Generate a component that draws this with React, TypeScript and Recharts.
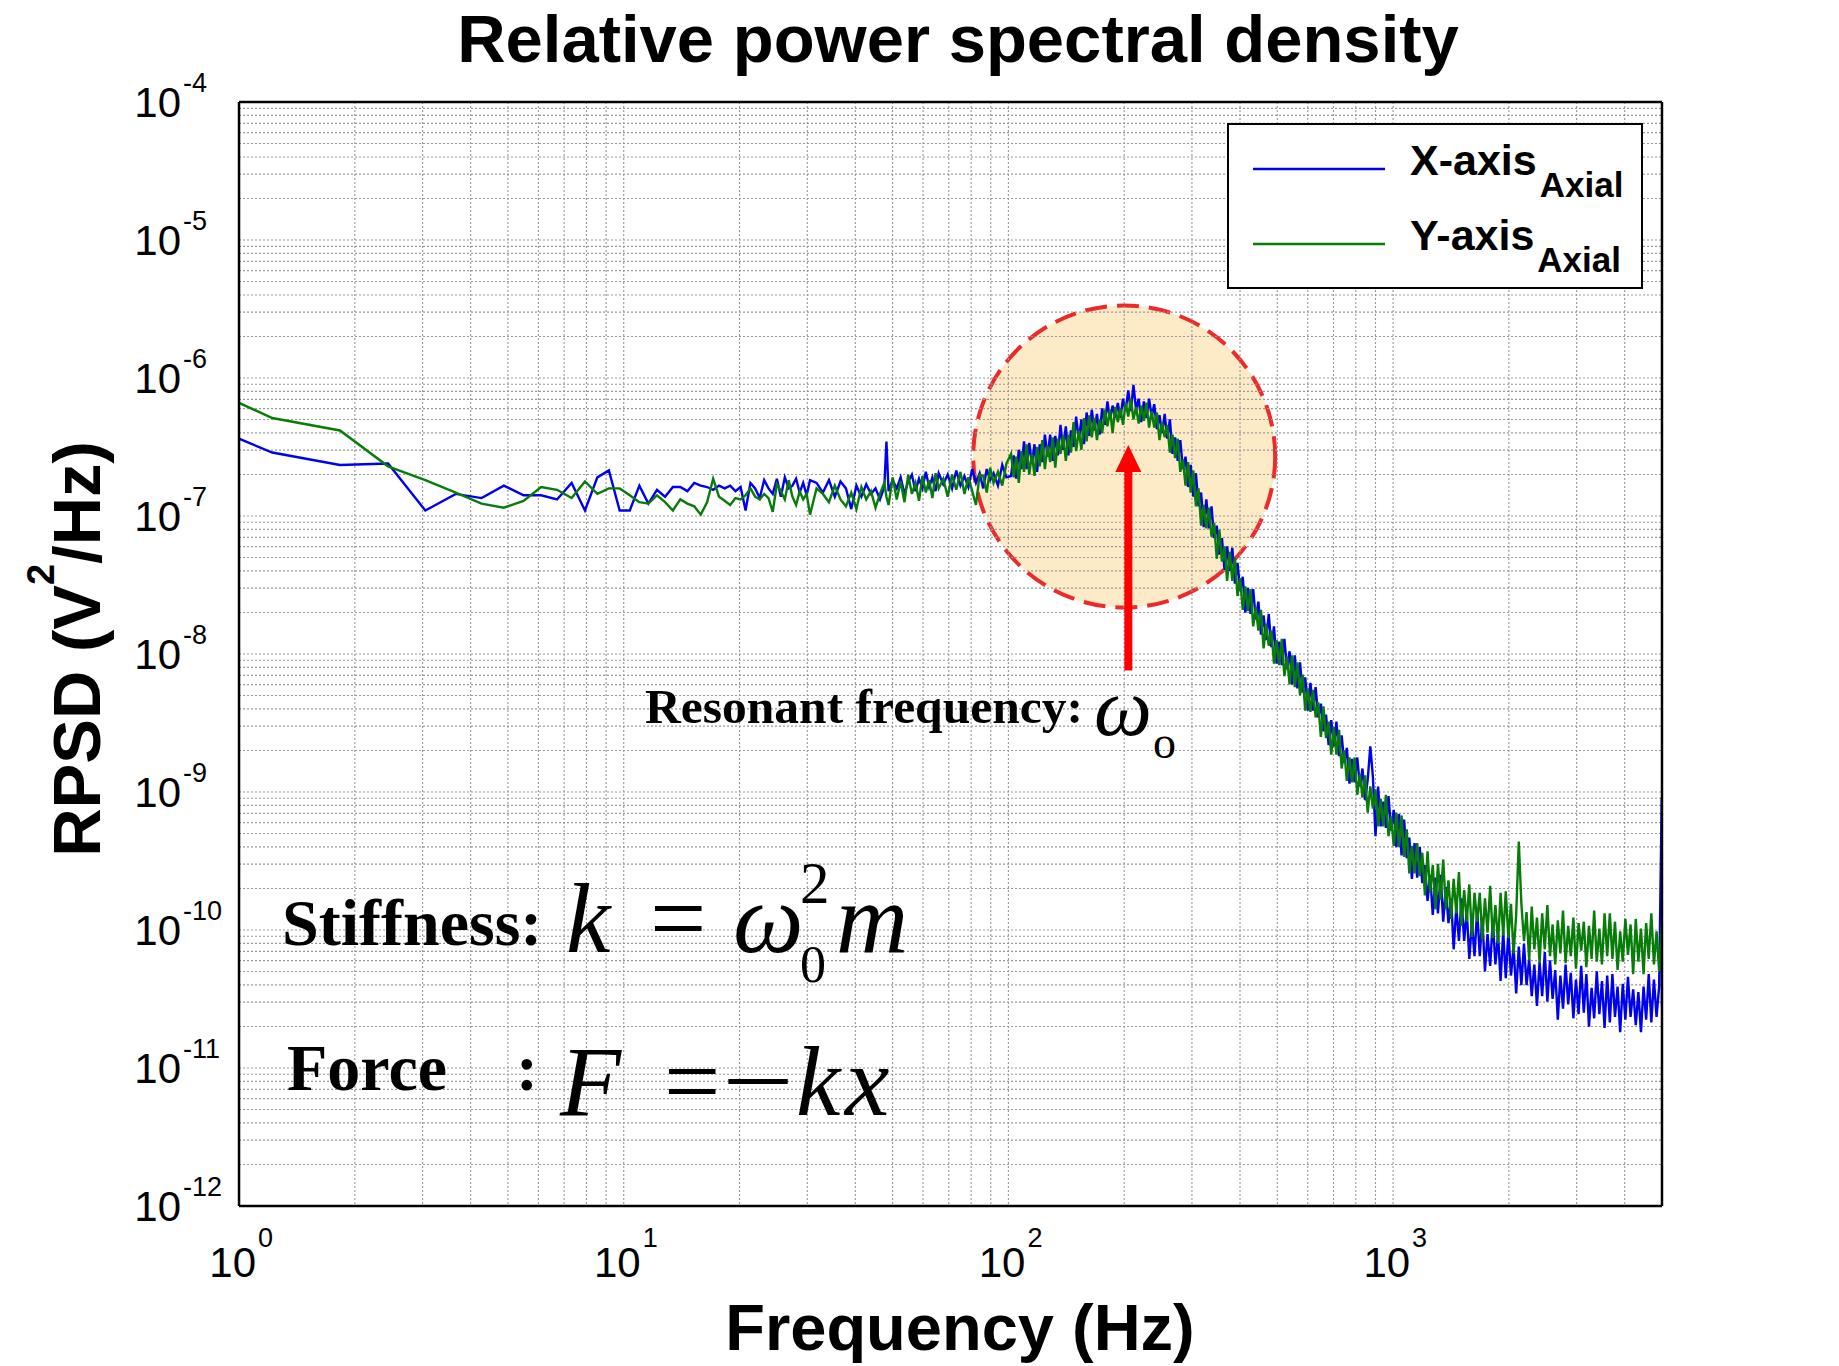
import React from 'react';
import {
  LineChart,
  Line,
  XAxis,
  YAxis,
  CartesianGrid,
  ReferenceDot,
  ReferenceLine,
  Legend,
} from 'recharts';

// ---------------- data ----------------
const freqHz = [
  1, 1.22, 1.83, 2.44, 3.05, 3.66, 4.27, 4.88, 5.49, 6.1,
  6.71, 7.32, 7.93, 8.54, 9.15, 9.76, 10.37, 10.98, 11.59, 12.2,
  12.81, 13.42, 14.03, 14.64, 15.25, 15.86, 16.47, 17.08, 17.69, 18.3,
  18.91, 19.52, 20.13, 20.74, 21.35, 21.96, 22.57, 23.18, 23.79, 24.4,
  25.01, 25.62, 26.23, 26.84, 27.45, 28.06, 28.67, 29.28, 29.89, 30.5,
  31.72, 32.94, 34.16, 35.38, 36.6, 37.82, 39.04, 40.26, 41.48, 42.7,
  43.92, 45.14, 46.36, 47.58, 48.19, 48.8, 50.02, 51.24, 52.46, 53.68,
  54.9, 56.12, 57.34, 58.56, 59.78, 61.0, 62.22, 63.44, 64.66, 65.88,
  67.71, 69.54, 71.37, 73.2, 75.03, 76.86, 78.69, 80.52, 82.35, 84.18,
  86.01, 87.84, 89.67, 91.5, 93.94, 96.38, 98.82,
  101.6, 103.2, 104.8, 106.4, 108.1, 109.8, 111.5, 113.3, 115.1, 116.9,
  118.7, 120.6, 122.5, 124.4, 126.4, 128.4, 130.4, 132.4, 134.5, 136.6,
  138.8, 141.0, 143.2, 145.4, 147.7, 150.0, 152.4, 154.8, 157.2, 159.7,
  162.2, 164.7, 167.3, 169.9, 172.6, 175.3, 178.1, 180.9, 183.7, 186.6,
  189.5, 192.5, 195.5, 198.6, 201.7, 204.9, 208.1, 211.4, 214.7, 218.1,
  221.5, 225.0, 228.5, 232.1, 235.7, 239.4, 243.2, 247.0, 250.9, 254.8,
  258.8, 262.9, 267.0, 271.2, 275.5, 279.8, 284.2, 288.7, 293.2, 297.8,
  302.5, 307.2, 312.0, 316.9, 321.9, 327.0, 332.1, 337.3, 342.6, 348.0,
  353.5, 359.0, 364.6, 370.3, 376.1, 382.0, 388.0, 394.1, 400.3, 406.6,
  413.0, 419.5, 426.1, 432.8, 439.6, 446.5, 453.5, 460.6, 467.8, 475.1,
  482.6, 490.2, 497.9, 505.7, 513.6, 521.7, 529.9, 538.2, 546.7, 555.3,
  564.0, 572.9, 581.9, 591.0, 600.3, 609.7, 619.3, 629.0, 638.9, 648.9,
  659.1, 669.4, 679.9, 690.6, 701.4, 712.4, 723.6, 735.0, 746.5, 758.2,
  770.1, 782.2, 794.5, 807.0, 819.7, 832.6, 845.7, 859.0, 872.5, 886.2,
  900.1, 914.2, 928.6, 943.2, 958.0, 973.0, 988.3, 1004, 1020, 1036,
  1052, 1068, 1085, 1102, 1119, 1137, 1155, 1173, 1191, 1210,
  1229, 1248, 1268, 1288, 1308, 1329, 1350, 1371, 1393, 1415,
  1437, 1460, 1483, 1506, 1530, 1554, 1578, 1603, 1628, 1654,
  1680, 1706, 1733, 1760, 1788, 1816, 1845, 1874, 1903, 1933,
  1963, 1994, 2025, 2057, 2089, 2122, 2155, 2189, 2223, 2258,
  2293, 2329, 2366, 2403, 2441, 2479, 2518, 2558, 2598, 2639,
  2680, 2722, 2765, 2808, 2852, 2897, 2942, 2988, 3035, 3083,
  3131, 3180, 3230, 3281, 3332, 3384, 3437, 3491, 3546, 3602,
  3659, 3716, 3774, 3833, 3893, 3954, 4016, 4079, 4143, 4208,
  4274, 4341, 4409, 4478, 4548, 4619, 4691, 4765, 4840, 4916,
  4993, 5000,
];

// log10 of RPSD (V^2/Hz), X-axis (axial), blue
const xAxialLogPsd = [
  -6.44, -6.54, -6.63, -6.62, -6.96, -6.84, -6.87, -6.78, -6.85, -6.85,
  -6.88, -6.76, -6.96, -6.72, -6.67, -6.96, -6.96, -6.78, -6.91, -6.81,
  -6.86, -6.79, -6.79, -6.82, -6.76, -6.78, -6.79, -6.81, -6.78, -6.80,
  -6.78, -6.82, -6.79, -6.96, -6.76, -6.80, -6.87, -6.74, -6.80, -6.84,
  -6.73, -6.86, -6.72, -6.80, -6.78, -6.73, -6.83, -6.76, -6.85, -6.74,
  -6.76, -6.83, -6.74, -6.86, -6.75, -6.80, -6.95, -6.78, -6.86, -6.77,
  -6.84, -6.80, -6.88, -6.79, -6.46, -6.82, -6.74, -6.80, -6.72, -6.84,
  -6.75, -6.70, -6.82, -6.73, -6.80, -6.68, -6.79, -6.72, -6.82, -6.69,
  -6.77, -6.70, -6.80, -6.67, -6.78, -6.71, -6.79, -6.66, -6.76, -6.69,
  -6.80, -6.66, -6.74, -6.69, -6.78, -6.63, -6.72,
  -6.71, -6.56, -6.73, -6.52, -6.66, -6.46, -6.66, -6.47, -6.62, -6.48,
  -6.68, -6.48, -6.61, -6.41, -6.57, -6.41, -6.60, -6.42, -6.56, -6.34,
  -6.52, -6.35, -6.56, -6.38, -6.50, -6.28, -6.45, -6.30, -6.48, -6.25,
  -6.42, -6.23, -6.38, -6.26, -6.41, -6.22, -6.34, -6.17, -6.30, -6.20,
  -6.29, -6.18, -6.29, -6.15, -6.24, -6.09, -6.24, -6.05, -6.23, -6.15,
  -6.32, -6.17, -6.29, -6.15, -6.28, -6.19, -6.37, -6.27, -6.40, -6.26,
  -6.44, -6.30, -6.55, -6.43, -6.60, -6.45, -6.66, -6.57, -6.79, -6.63,
  -6.86, -6.69, -6.93, -6.83, -7.08, -6.88, -7.09, -6.93, -7.16, -7.07,
  -7.28, -7.16, -7.39, -7.22, -7.40, -7.23, -7.49, -7.34, -7.54, -7.44,
  -7.70, -7.52, -7.71, -7.53, -7.75, -7.62, -7.86, -7.72, -7.90, -7.71,
  -7.95, -7.80, -8.07, -7.91, -8.08, -7.89, -8.11, -7.98, -8.22, -8.01,
  -8.25, -8.06, -8.28, -8.17, -8.41, -8.21, -8.41, -8.24, -8.46, -8.36,
  -8.56, -8.44, -8.66, -8.48, -8.67, -8.49, -8.74, -8.59, -8.79, -8.68,
  -8.94, -8.76, -8.93, -8.75, -8.96, -8.83, -9.06, -8.91, -8.67, -8.89,
  -9.32, -8.96, -9.25, -9.07, -9.26, -9.03, -9.28, -9.13, -9.40, -9.16,
  -9.46, -9.20, -9.48, -9.33, -9.63, -9.37, -9.62, -9.40, -9.66, -9.53,
  -9.79, -9.60, -9.89, -9.62, -9.88, -9.60, -9.94, -9.69, -9.95, -9.77,
  -10.14, -9.83, -10.08, -9.77, -10.08, -9.86, -10.21, -9.94, -10.19, -9.85,
  -10.19, -9.91, -10.30, -10.03, -10.26, -9.93, -10.25, -10.03, -10.37, -10.01,
  -10.35, -10.01, -10.33, -10.12, -10.46, -10.12, -10.40, -10.10, -10.40, -10.21,
  -10.48, -10.25, -10.55, -10.23, -10.48, -10.16, -10.52, -10.22, -10.50, -10.29,
  -10.65, -10.33, -10.57, -10.25, -10.54, -10.31, -10.64, -10.36, -10.61, -10.26,
  -10.60, -10.32, -10.70, -10.42, -10.64, -10.30, -10.61, -10.37, -10.71, -10.33,
  -10.67, -10.32, -10.63, -10.41, -10.74, -10.39, -10.65, -10.34, -10.63, -10.43,
  -10.69, -10.45, -10.74, -10.41, -10.65, -10.32, -10.67, -10.36, -10.63, -10.41,
  -9.04, -10.55,
];

// log10 of RPSD (V^2/Hz), Y-axis (axial), green
const yAxialLogPsd = [
  -6.18, -6.29, -6.38, -6.64, -6.74, -6.83, -6.91, -6.94, -6.89, -6.79,
  -6.81, -6.87, -6.75, -6.84, -6.80, -6.80, -6.85, -6.90, -6.91, -6.85,
  -6.90, -6.96, -6.88, -6.91, -6.93, -6.99, -6.90, -6.73, -6.86, -6.89,
  -6.92, -6.87, -6.88, -6.85, -6.80, -6.86, -6.88, -6.84, -6.87, -6.97,
  -6.77, -6.82, -6.88, -6.74, -6.86, -6.92, -6.82, -6.88, -6.84, -6.99,
  -6.80, -6.84, -6.90, -6.78, -6.88, -6.93, -6.83, -6.95, -6.79, -6.88,
  -6.82, -6.94, -6.84, -6.76, -6.86, -6.92, -6.72, -6.88, -6.75, -6.90,
  -6.70, -6.84, -6.76, -6.89, -6.71, -6.83, -6.74, -6.87, -6.69, -6.80,
  -6.73, -6.86, -6.70, -6.81, -6.68, -6.84, -6.72, -6.82, -6.92, -6.70,
  -6.71, -6.83, -6.65, -6.76, -6.68, -6.78, -6.62,
  -6.55, -6.72, -6.57, -6.76, -6.53, -6.68, -6.48, -6.70, -6.55, -6.71,
  -6.50, -6.64, -6.45, -6.66, -6.49, -6.61, -6.43, -6.65, -6.44, -6.55,
  -6.41, -6.60, -6.41, -6.54, -6.32, -6.53, -6.38, -6.52, -6.29, -6.46,
  -6.27, -6.43, -6.29, -6.45, -6.30, -6.40, -6.23, -6.35, -6.23, -6.40,
  -6.21, -6.32, -6.22, -6.34, -6.18, -6.28, -6.15, -6.30, -6.21, -6.33,
  -6.20, -6.31, -6.18, -6.36, -6.24, -6.36, -6.25, -6.45, -6.32, -6.43,
  -6.34, -6.54, -6.41, -6.58, -6.44, -6.68, -6.59, -6.78, -6.61, -6.83,
  -6.67, -6.93, -6.80, -7.07, -6.92, -7.09, -6.94, -7.15, -7.05, -7.31,
  -7.10, -7.33, -7.22, -7.47, -7.26, -7.47, -7.30, -7.58, -7.45, -7.68,
  -7.51, -7.69, -7.53, -7.80, -7.66, -7.83, -7.68, -7.96, -7.78, -7.94,
  -7.83, -8.07, -7.90, -8.08, -7.89, -8.16, -8.02, -8.22, -8.01, -8.24,
  -8.06, -8.30, -8.15, -8.41, -8.25, -8.42, -8.26, -8.46, -8.35, -8.60,
  -8.38, -8.61, -8.49, -8.73, -8.53, -8.73, -8.55, -8.83, -8.70, -8.92,
  -8.75, -8.93, -8.75, -9.02, -8.87, -9.04, -8.88, -9.15, -8.96, -9.12,
  -8.98, -9.25, -9.05, -9.25, -9.02, -9.32, -9.18, -9.39, -9.15, -9.40,
  -9.17, -9.47, -9.27, -9.59, -9.39, -9.59, -9.37, -9.61, -9.44, -9.75,
  -9.43, -9.73, -9.53, -9.85, -9.52, -9.78, -9.49, -9.85, -9.64, -9.92,
  -9.63, -9.88, -9.58, -9.97, -9.71, -9.94, -9.67, -10.05, -9.73, -9.94,
  -9.73, -10.07, -9.77, -10.02, -9.68, -10.06, -9.82, -10.10, -9.73, -10.04,
  -9.72, -10.06, -9.81, -10.17, -9.89, -9.36, -9.81, -10.08, -9.87, -10.22,
  -9.83, -10.14, -9.91, -10.24, -9.88, -10.14, -9.82, -10.19, -9.96, -10.25,
  -9.93, -10.17, -9.86, -10.24, -9.97, -10.19, -9.91, -10.28, -9.95, -10.15,
  -9.94, -10.27, -9.97, -10.21, -9.86, -10.23, -9.99, -10.25, -9.88, -10.19,
  -9.88, -10.21, -9.94, -10.29, -10.01, -10.23, -9.92, -10.18, -9.96, -10.32,
  -9.92, -10.23, -9.99, -10.32, -9.95, -10.21, -9.88, -10.25, -10.01, -10.30,
  -9.95, -10.13,
];

const seriesNames = ['X-axis', 'Y-axis'];
const seriesSubscript = 'Axial';
const seriesColors = ['#0000f0', '#087c08'];

const xMajorTicks = [1, 10, 100, 1000];
const xMinorTicks = [
  2, 3, 4, 5, 6, 7, 8, 9,
  20, 30, 40, 50, 60, 70, 80, 90,
  200, 300, 400, 500, 600, 700, 800, 900,
  2000, 3000, 4000, 5000,
];
const yMajorTicks = [1e-12, 1e-11, 1e-10, 1e-9, 1e-8, 1e-7, 1e-6, 1e-5, 1e-4];
const yMinorMultipliers = [2, 3, 4, 5, 6, 7, 8, 9];
const yMinorTicks = yMajorTicks.slice(0, -1).flatMap((d) => yMinorMultipliers.map((m) => m * d));
const xGridValues = [...xMajorTicks, ...xMinorTicks];
const yGridValues = [...yMajorTicks, ...yMinorTicks];

const X_DOMAIN: [number, number] = [1, 5000];
const Y_DOMAIN: [number, number] = [1e-12, 1e-4];

// resonance annotation (data coordinates)
const resonanceCircle = { f: 200, psd: 2.7e-7, radius: 151 };
const resonanceArrow = { f: 205, from: 7.6e-9, to: 3.27e-7 };

const chartData = freqHz.map((f, i) => ({
  f,
  xAxial: Math.pow(10, xAxialLogPsd[i]),
  yAxial: Math.pow(10, yAxialLogPsd[i]),
}));

// ---------------- styling ----------------
const SANS = '"Liberation Sans", Arial, Helvetica, sans-serif';
const SERIF = '"Liberation Serif", "Times New Roman", Times, serif';
const W = 1839;
const H = 1366;
const MARGIN = { top: 102, right: 177, bottom: 160, left: 239 };
const frame = { stroke: '#000', strokeWidth: 2.5 };
const THIN = 0.01;

const YTickLabel = (props: any) => {
  const { x, y, payload } = props;
  const exp = Math.round(Math.log10(payload.value));
  return (
    <g>
      <text x={x - 58} y={y + 15} textAnchor="end" fontFamily={SANS} fontSize={42} fill="#000">
        10
      </text>
      <text x={x - 56} y={y - 10} textAnchor="start" fontFamily={SANS} fontSize={27} fill="#000">
        {String(exp)}
      </text>
    </g>
  );
};

const XTickLabel = (props: any) => {
  const { x, y, payload } = props;
  const exp = Math.round(Math.log10(payload.value));
  return (
    <g>
      <text x={x + 17} y={y + 71} textAnchor="end" fontFamily={SANS} fontSize={42} fill="#000">
        10
      </text>
      <text x={x + 19} y={y + 41} textAnchor="start" fontFamily={SANS} fontSize={27} fill="#000">
        {String(exp)}
      </text>
    </g>
  );
};

const ArrowShape = (props: any) => {
  const { x1, y1, x2, y2 } = props;
  const x = (x1 + x2) / 2;
  const tipY = Math.min(y1, y2);
  const baseY = Math.max(y1, y2);
  const headLen = 27;
  const headHalf = 13;
  const shaftHalf = 4;
  return (
    <g>
      <rect x={x - shaftHalf} y={tipY + headLen - 1} width={shaftHalf * 2} height={baseY - tipY - headLen + 1} fill="#ff0000" />
      <polygon points={`${x},${tipY} ${x - headHalf},${tipY + headLen} ${x + headHalf},${tipY + headLen}`} fill="#ff0000" />
    </g>
  );
};

const renderLegend = (props: any) => {
  const payload = props.payload || [];
  return (
    <svg width={416} height={166} style={{ display: 'block' }}>
      <rect x={1} y={1} width={414} height={164} fill="#fff" stroke="#000" strokeWidth={2} />
      {payload.map((entry: any, i: number) => {
        const cy = 46 + i * 75;
        return (
          <g key={`leg-${i}`}>
            <line x1={26} x2={158} y1={cy} y2={cy} stroke={entry.color} strokeWidth={2.5} />
            <text x={183} y={cy + 6} fontFamily={SANS} fontWeight="bold" fontSize={43} fill="#000">
              {entry.value}
              <tspan dx={3} dy={22} fontSize={35}>
                {seriesSubscript}
              </tspan>
            </text>
          </g>
        );
      })}
    </svg>
  );
};

const xCommon = {
  type: 'number' as const,
  scale: 'log' as const,
  domain: X_DOMAIN,
  allowDataOverflow: true,
  dataKey: 'f',
  interval: 0 as const,
  height: THIN,
};
const yCommon = {
  type: 'number' as const,
  scale: 'log' as const,
  domain: Y_DOMAIN,
  allowDataOverflow: true,
  interval: 0 as const,
  width: THIN,
};

const layer: React.CSSProperties = { position: 'absolute', left: 0, top: 0 };

export default function App() {
  return (
    <div style={{ position: 'absolute', left: 0, top: 0, width: W, height: H, background: '#fff' }}>
      {/* bottom layer: highlighted resonance region (under grid and data) */}
      <div style={layer}>
        <LineChart width={W} height={H} data={chartData} margin={MARGIN}>
          <XAxis xAxisId="main" hide type="number" scale="log" domain={X_DOMAIN} allowDataOverflow dataKey="f" />
          <YAxis yAxisId="main" hide type="number" scale="log" domain={Y_DOMAIN} allowDataOverflow />
          <ReferenceDot
            xAxisId="main"
            yAxisId="main"
            x={resonanceCircle.f}
            y={resonanceCircle.psd}
            r={resonanceCircle.radius}
            fill="#fdebc8"
            stroke="#ec2a2a"
            strokeWidth={4}
            strokeDasharray="22 10"
            ifOverflow="visible"
          />
        </LineChart>
      </div>

      {/* main layer */}
      <div style={layer}>
        <LineChart width={W} height={H} data={chartData} margin={MARGIN}>
          <XAxis xAxisId="bMaj" orientation="bottom" {...xCommon} ticks={xMajorTicks} tick={false} tickSize={-15} tickLine={frame} axisLine={frame} />
          <XAxis xAxisId="bMin" orientation="bottom" {...xCommon} ticks={xMinorTicks} tick={false} tickSize={-8} tickLine={frame} axisLine={false} />
          <XAxis xAxisId="tMaj" orientation="top" {...xCommon} ticks={xMajorTicks} tick={false} tickSize={-15} tickLine={frame} axisLine={frame} />
          <XAxis xAxisId="tMin" orientation="top" {...xCommon} ticks={xMinorTicks} tick={false} tickSize={-8} tickLine={frame} axisLine={false} />
          <YAxis yAxisId="lMaj" orientation="left" {...yCommon} ticks={yMajorTicks} tick={false} tickSize={-15} tickLine={frame} axisLine={frame} />
          <YAxis yAxisId="lMin" orientation="left" {...yCommon} ticks={yMinorTicks} tick={false} tickSize={-8} tickLine={frame} axisLine={false} />
          <YAxis yAxisId="rMaj" orientation="right" {...yCommon} ticks={yMajorTicks} tick={false} tickSize={-15} tickLine={frame} axisLine={frame} />
          <YAxis yAxisId="rMin" orientation="right" {...yCommon} ticks={yMinorTicks} tick={false} tickSize={-8} tickLine={frame} axisLine={false} />
          <XAxis xAxisId="main" orientation="bottom" {...xCommon} ticks={xMajorTicks} tick={XTickLabel} tickSize={0} tickMargin={0} tickLine={false} axisLine={false} />
          <YAxis yAxisId="main" orientation="left" {...yCommon} ticks={yMajorTicks} tick={YTickLabel} tickSize={0} tickMargin={0} tickLine={false} axisLine={false} />

          <CartesianGrid
            xAxisId="main"
            yAxisId="main"
            horizontalValues={yGridValues}
            verticalValues={xGridValues}
            syncWithTicks={false}
            stroke="#979797"
            strokeWidth={1.1}
            strokeDasharray="2 2"
          />

          <Line
            xAxisId="main"
            yAxisId="main"
            dataKey="xAxial"
            name={seriesNames[0]}
            stroke={seriesColors[0]}
            strokeWidth={2.4}
            dot={false}
            activeDot={false}
            isAnimationActive={false}
            type="linear"
          />
          <Line
            xAxisId="main"
            yAxisId="main"
            dataKey="yAxial"
            name={seriesNames[1]}
            stroke={seriesColors[1]}
            strokeWidth={2.4}
            dot={false}
            activeDot={false}
            isAnimationActive={false}
            type="linear"
          />

          <ReferenceLine
            xAxisId="main"
            yAxisId="main"
            segment={[
              { x: resonanceArrow.f, y: resonanceArrow.from },
              { x: resonanceArrow.f, y: resonanceArrow.to },
            ]}
            stroke="#ff0000"
            shape={ArrowShape}
            ifOverflow="visible"
          />

          <Legend
            layout="vertical"
            verticalAlign="middle"
            align="center"
            content={renderLegend}
            wrapperStyle={{ position: 'absolute', left: 1227, top: 123, width: 416, height: 166 }}
          />
        </LineChart>
      </div>

      <svg width={W} height={H} style={{ ...layer, pointerEvents: 'none' }}>
        <text x={958} y={62} textAnchor="middle" fontFamily={SANS} fontWeight="bold" fontSize={67} fill="#000">
          Relative power spectral density
        </text>
        <text x={960} y={1350} textAnchor="middle" fontFamily={SANS} fontWeight="bold" fontSize={65} fill="#000">
          Frequency (Hz)
        </text>
        <text transform="translate(100 649) rotate(-90)" textAnchor="middle" fontFamily={SANS} fontWeight="bold" fontSize={67} fill="#000">
          RPSD (V
          <tspan fontSize={38} dy={-46}>2</tspan>
          <tspan dy={46}>/Hz)</tspan>
        </text>

        <text x={645} y={723} fontFamily={SERIF} fontWeight="bold" fontSize={48} textLength={438} lengthAdjust="spacingAndGlyphs" fill="#000">
          Resonant frequency:
        </text>
        <text x={1094} y={735} fontFamily={SERIF} fontStyle="italic" fontSize={82} fill="#000">ω</text>
        <text x={1153} y={758} fontFamily={SERIF} fontSize={46} fill="#000">o</text>

        <text x={282} y={945} fontFamily={SERIF} fontWeight="bold" fontSize={66} fill="#000">Stiffness:</text>
        <text x={566} y={952} fontFamily={SERIF} fontStyle="italic" fontSize={100} fill="#000">k</text>
        <text x={650} y={952} fontFamily={SERIF} fontSize={100} fill="#000">=</text>
        <text x={733} y={952} fontFamily={SERIF} fontStyle="italic" fontSize={100} fill="#000">ω</text>
        <text x={800} y={903} fontFamily={SERIF} fontSize={59} fill="#000">2</text>
        <text x={800} y={982} fontFamily={SERIF} fontSize={52} fill="#000">0</text>
        <text x={836} y={952} fontFamily={SERIF} fontStyle="italic" fontSize={100} fill="#000">m</text>

        <text x={287} y={1090} fontFamily={SERIF} fontWeight="bold" fontSize={66} fill="#000">Force</text>
        <text x={516} y={1090} fontFamily={SERIF} fontWeight="bold" fontSize={66} fill="#000">:</text>
        <text x={560} y={1115} fontFamily={SERIF} fontStyle="italic" fontSize={100} fill="#000">F</text>
        <text x={664} y={1115} fontFamily={SERIF} fontSize={100} fill="#000">=</text>
        <text x={722} y={1115} fontFamily={SERIF} fontSize={100} textLength={72} lengthAdjust="spacingAndGlyphs" fill="#000">−</text>
        <text x={796} y={1115} fontFamily={SERIF} fontStyle="italic" fontSize={100} fill="#000">k</text>
        <text x={845} y={1115} fontFamily={SERIF} fontStyle="italic" fontSize={100} fill="#000">x</text>
      </svg>
    </div>
  );
}
